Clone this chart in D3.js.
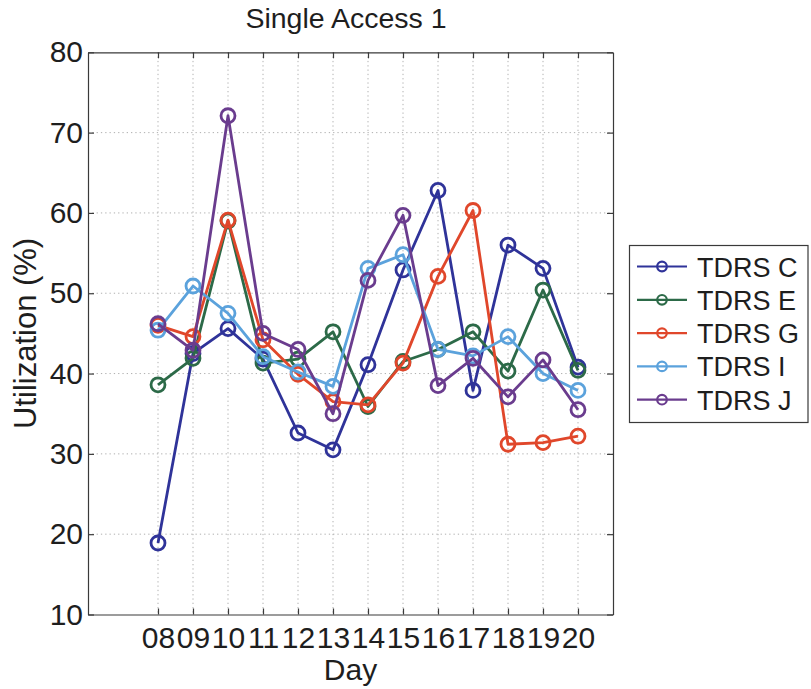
<!DOCTYPE html>
<html>
<head>
<meta charset="utf-8">
<script src="https://cdn.jsdelivr.net/npm/d3@7"></script>
<style>
  html, body { margin: 0; padding: 0; background: #fff; }
  svg text { font-family: "Liberation Sans", Arial, Helvetica, sans-serif; fill: #1e1e1e; }
</style>
</head>
<body>
<svg id="chart" width="811" height="689"></svg>
<script>
// Days on the x axis
const days = ["08", "09", "10", "11", "12", "13", "14", "15", "16", "17", "18", "19", "20"];
const dayNums = [8, 9, 10, 11, 12, 13, 14, 15, 16, 17, 18, 19, 20];

// Utilization (%) per satellite, one value per day
const tdrsC = [18.9, 42.5, 45.6, 41.8, 32.6, 30.5, 41.1, 52.9, 62.8, 37.9, 56.0, 53.1, 40.8];
const tdrsE = [38.6, 41.9, 59.0, 41.3, 41.8, 45.2, 35.9, 41.5, 43.0, 45.2, 40.3, 50.4, 40.4];
const tdrsG = [46.0, 44.6, 59.1, 44.2, 39.9, 36.5, 36.1, 41.3, 52.1, 60.3, 31.2, 31.4, 32.2];
const tdrsI = [45.4, 50.9, 47.5, 42.1, 40.2, 38.4, 53.1, 54.8, 43.0, 42.2, 44.6, 40.0, 37.9];
const tdrsJ = [46.2, 42.9, 72.1, 45.0, 43.0, 35.0, 51.6, 59.7, 38.5, 41.9, 37.1, 41.7, 35.5];

const seriesNames = ["TDRS C", "TDRS E", "TDRS G", "TDRS I", "TDRS J"];
const seriesValues = [tdrsC, tdrsE, tdrsG, tdrsI, tdrsJ];
const seriesColors = ["#2f3399", "#2c6a48", "#e0472b", "#5ba2dc", "#6a3c8e"];

const yTicks = [10, 20, 30, 40, 50, 60, 70, 80];

const svg = d3.select("#chart");
const plot = { left: 88, right: 613, top: 52.3, bottom: 614.5 };

const x = d3.scaleLinear().domain([6, 21]).range([plot.left, plot.right]);
const y = d3.scaleLinear().domain([10, 80]).range([plot.bottom, plot.top]);

// dotted grid
const grid = svg.append("g");
grid.selectAll("line.vg").data(dayNums).join("line")
  .attr("x1", d => x(d)).attr("x2", d => x(d))
  .attr("y1", plot.top).attr("y2", plot.bottom)
  .attr("stroke", "#b0b0b0").attr("stroke-width", 1).attr("stroke-dasharray", "1.3,3");
grid.selectAll("line.hg").data(yTicks.filter(t => t > 10 && t < 80)).join("line")
  .attr("x1", plot.left).attr("x2", plot.right)
  .attr("y1", d => y(d)).attr("y2", d => y(d))
  .attr("stroke", "#b0b0b0").attr("stroke-width", 1).attr("stroke-dasharray", "1.3,3");

// axes: box with inward ticks on all four sides
const tickLen = 6;
const axisColor = "#3a3a3a";
const xAxisB = d3.axisBottom(x).tickValues(dayNums).tickFormat((d, i) => days[i]).tickSizeInner(-tickLen).tickSizeOuter(0).tickPadding(12);
const xAxisT = d3.axisTop(x).tickValues(dayNums).tickFormat("").tickSizeInner(-tickLen).tickSizeOuter(0);
const yAxisL = d3.axisLeft(y).tickValues(yTicks).tickFormat(d3.format("d")).tickSizeInner(-tickLen).tickSizeOuter(0).tickPadding(5);
const yAxisR = d3.axisRight(y).tickValues(yTicks).tickFormat("").tickSizeInner(-tickLen).tickSizeOuter(0);

function styleAxis(g) {
  g.select(".domain").attr("stroke", axisColor).attr("stroke-width", 1.2);
  g.selectAll(".tick line").attr("stroke", axisColor).attr("stroke-width", 1.2);
  g.selectAll(".tick text").attr("font-size", 30).attr("fill", "#1e1e1e")
    .attr("font-family", "'Liberation Sans', Arial, Helvetica, sans-serif");
}
svg.append("g").attr("transform", `translate(0,${plot.bottom})`).call(xAxisB).call(styleAxis);
svg.append("g").attr("transform", `translate(0,${plot.top})`).call(xAxisT).call(styleAxis);
svg.append("g").attr("transform", `translate(${plot.left},0)`).call(yAxisL).call(styleAxis);
svg.append("g").attr("transform", `translate(${plot.right},0)`).call(yAxisR).call(styleAxis);

// series lines and circle markers
const line = d3.line().x((d, i) => x(dayNums[i])).y(d => y(d));
seriesValues.forEach((vals, s) => {
  const g = svg.append("g");
  g.append("path").datum(vals).attr("d", line)
    .attr("fill", "none").attr("stroke", seriesColors[s]).attr("stroke-width", 2.8)
    .attr("stroke-linejoin", "round");
  g.selectAll("circle").data(vals).join("circle")
    .attr("cx", (d, i) => x(dayNums[i])).attr("cy", d => y(d)).attr("r", 7)
    .attr("fill", "none").attr("stroke", seriesColors[s]).attr("stroke-width", 2.8);
});

// title and axis labels
svg.append("text").attr("x", 346).attr("y", 28).attr("text-anchor", "middle")
  .attr("font-size", 28.5).text("Single Access 1");
svg.append("text").attr("x", (plot.left + plot.right) / 2).attr("y", 680).attr("text-anchor", "middle")
  .attr("font-size", 30).text("Day");
svg.append("text").attr("transform", `translate(36,${(plot.top + plot.bottom) / 2}) rotate(-90)`)
  .attr("text-anchor", "middle").attr("font-size", 31).text("Utilization (%)");

// legend
const legend = svg.append("g");
legend.append("rect").attr("x", 629.5).attr("y", 245.5).attr("width", 178.5).attr("height", 177)
  .attr("fill", "#fff").attr("stroke", axisColor).attr("stroke-width", 1.2);
seriesNames.forEach((name, s) => {
  const cy = 266.5 + s * 33.3;
  legend.append("line").attr("x1", 637).attr("x2", 687).attr("y1", cy).attr("y2", cy)
    .attr("stroke", seriesColors[s]).attr("stroke-width", 2.2);
  legend.append("circle").attr("cx", 662).attr("cy", cy).attr("r", 4.8)
    .attr("fill", "none").attr("stroke", seriesColors[s]).attr("stroke-width", 2.2);
  legend.append("text").attr("x", 697).attr("y", cy + 10).attr("font-size", 27).text(name);
});
</script>
</body>
</html>
